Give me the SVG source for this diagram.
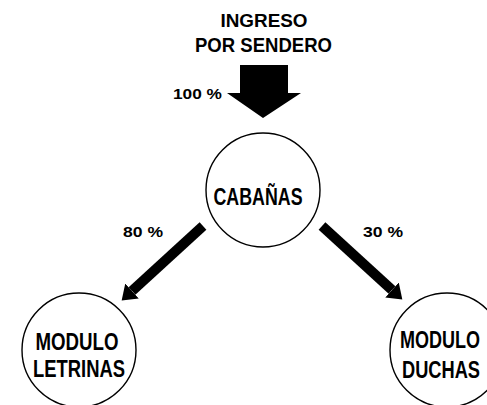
<svg xmlns="http://www.w3.org/2000/svg" width="487" height="405" viewBox="0 0 487 405">
<defs>
<style>
.t{font-family:"Liberation Sans",Arial,sans-serif;font-weight:bold;fill:#000;text-anchor:middle}
.n{fill:#fff;stroke:#000;stroke-width:1.4}
.c{stroke:#000;stroke-width:10;fill:none}
</style>
<marker id="ah" markerUnits="userSpaceOnUse" markerWidth="16" markerHeight="24" viewBox="0 -12 16 24" refX="0" refY="0" orient="auto">
<path d="M0,-10 L14,0 L0,10 z" fill="#000"/>
</marker>
</defs>
<rect width="487" height="405" fill="#fff"/>
<g id="title">
<text class="t" x="264" y="27" font-size="19" textLength="87" lengthAdjust="spacingAndGlyphs">INGRESO</text>
<text class="t" x="263.5" y="52" font-size="20" textLength="137" lengthAdjust="spacingAndGlyphs">POR SENDERO</text>
</g>
<g id="connectors">
<polygon points="240,65 288,65 288,93 301,93 263,118 227,93 240,93" fill="#000"/>
<line class="c" x1="203" y1="226" x2="132" y2="291" marker-end="url(#ah)"/>
<line class="c" x1="322" y1="226" x2="392" y2="290" marker-end="url(#ah)"/>
<text class="t" x="197.5" y="99" font-size="15" textLength="49" lengthAdjust="spacingAndGlyphs">100 %</text>
<text class="t" x="143" y="237" font-size="15" textLength="40" lengthAdjust="spacingAndGlyphs">80 %</text>
<text class="t" x="383" y="237" font-size="15" textLength="40" lengthAdjust="spacingAndGlyphs">30 %</text>
</g>
<g id="cabanas">
<circle class="n" cx="263" cy="190" r="57"/>
<text class="t" x="258" y="205" font-size="23" textLength="89" lengthAdjust="spacingAndGlyphs">CABAÑAS</text>
</g>
<g id="letrinas">
<circle class="n" cx="79" cy="350" r="57"/>
<text class="t" x="77" y="350" font-size="24" textLength="83" lengthAdjust="spacingAndGlyphs">MODULO</text>
<text class="t" x="79" y="377" font-size="24" textLength="92" lengthAdjust="spacingAndGlyphs">LETRINAS</text>
</g>
<g id="duchas">
<circle class="n" cx="447" cy="350" r="57"/>
<text class="t" x="440" y="348" font-size="24" textLength="80" lengthAdjust="spacingAndGlyphs">MODULO</text>
<text class="t" x="441" y="378" font-size="24" textLength="78" lengthAdjust="spacingAndGlyphs">DUCHAS</text>
</g>
</svg>
